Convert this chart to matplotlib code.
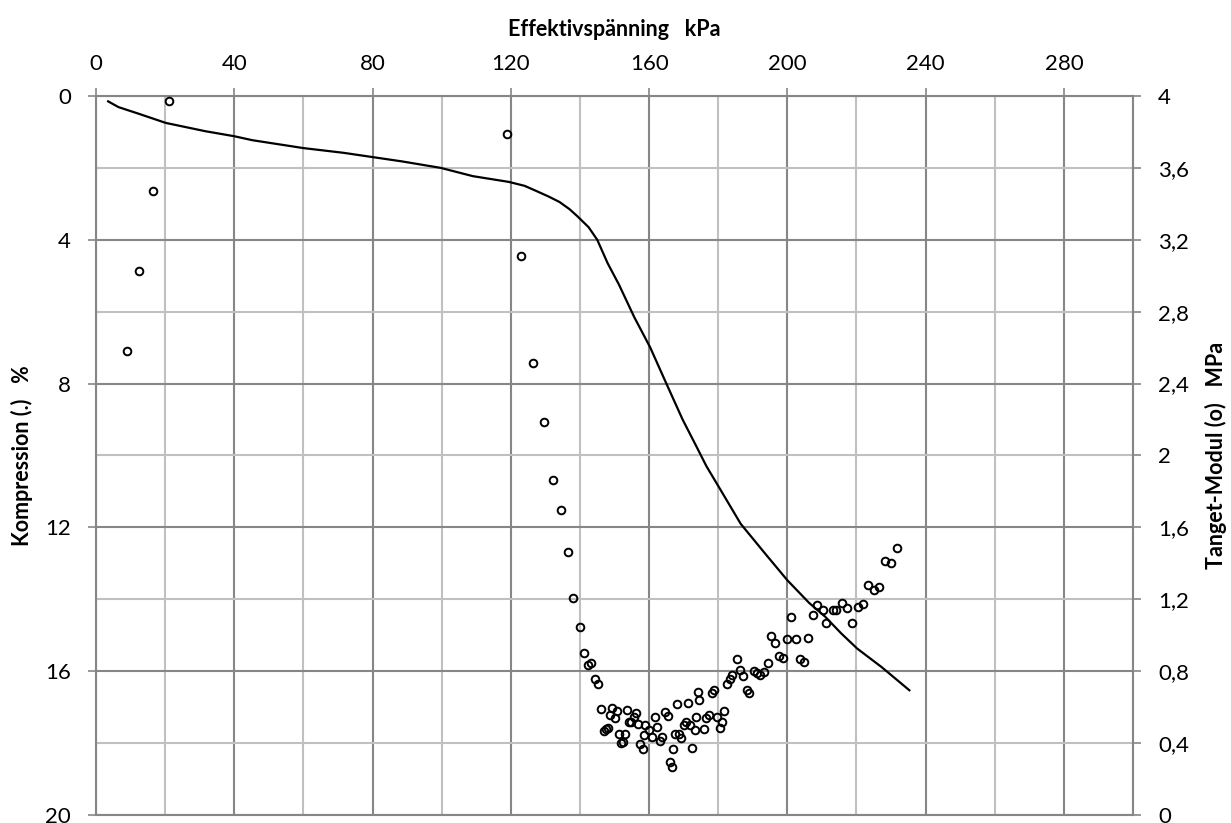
import matplotlib
matplotlib.use("Agg")
import matplotlib.pyplot as plt
from matplotlib.ticker import MultipleLocator, FuncFormatter

plt.rcParams['font.family'] = ['Lato', 'DejaVu Sans']

# Kompression-kurva (effektivspänning kPa, kompression %)
line_kpa = [3.5, 6.5, 12.2, 20.2, 31.6, 40, 45.2, 60, 71.5, 80, 88.5, 99.7, 109, 119.4,
            124.0, 127.3, 131.0, 134.1, 137.0, 139.3, 142.5, 145, 148.0, 151.3, 155.7,
            160.3, 165, 169.7, 173.7, 176.6, 180.7, 186.5, 193.5, 200, 206.3, 210.9,
            215.6, 220.2, 227.2, 235.3]
line_comp = [0.15, 0.31, 0.49, 0.75, 0.98, 1.12, 1.23, 1.45, 1.58, 1.70, 1.82, 2.0, 2.23, 2.39,
             2.50, 2.64, 2.80, 2.95, 3.15, 3.35, 3.65, 4.0, 4.65, 5.25, 6.15,
             6.99, 8.0, 9.0, 9.75, 10.3, 10.96, 11.9, 12.72, 13.47, 14.1, 14.48,
             14.95, 15.37, 15.88, 16.53]

# Tangentmodul (effektivspänning kPa, modul MPa)
mod_kpa = [9.1, 12.5, 16.5, 21.1, 119.0, 123.0, 126.5, 129.6, 132.2, 134.4, 136.4, 138.1,
           139.9, 141.1, 142.4, 143.2, 144.4, 145.2, 146.0, 146.9, 147.4, 148.0, 148.6,
           149.4, 150.0, 150.7, 151.3, 151.9, 152.4, 152.9, 153.5, 154.2, 154.8, 155.5,
           156.1, 156.8, 157.4, 158.1, 158.4, 158.9, 160.0, 160.7, 161.7, 162.4, 163.1,
           163.7, 164.7, 165.5, 166.1, 166.5, 166.9, 167.4, 168.0, 168.6, 169.3, 170.0,
           170.8, 171.2, 171.8, 172.5, 173.2, 173.7, 174.2, 174.4, 176.0, 176.6, 177.4,
           178.1, 178.8, 179.7, 180.5, 181.0, 181.7, 182.6, 183.4, 184.1, 185.5, 186.4,
           187.2, 188.2, 189.0, 190.3, 191.1, 192.1, 193.2, 194.4, 195.2, 196.4, 197.6,
           198.8, 200.0, 201.2, 202.4, 203.6, 204.8, 206.0, 207.3, 208.6, 210.2, 211.3,
           213.1, 214.2, 215.9, 217.4, 218.8, 220.3, 221.8, 223.4, 225.0, 226.5, 228.2,
           229.9, 231.6]
mod_mpa = [2.58, 3.025, 3.47, 3.97, 3.79, 3.11, 2.515, 2.185, 1.861, 1.698, 1.463, 1.207,
           1.044, 0.902, 0.837, 0.846, 0.756, 0.730, 0.587, 0.469, 0.478, 0.485, 0.559,
           0.593, 0.541, 0.580, 0.45, 0.40, 0.407, 0.45, 0.583, 0.519, 0.519, 0.546,
           0.565, 0.509, 0.394, 0.365, 0.443, 0.50, 0.472, 0.435, 0.543, 0.491, 0.411,
           0.435, 0.574, 0.55, 0.296, 0.265, 0.37, 0.448, 0.617, 0.45, 0.426, 0.50,
           0.519, 0.624, 0.50, 0.374, 0.472, 0.546, 0.685, 0.639, 0.478, 0.537, 0.556,
           0.676, 0.694, 0.546, 0.484, 0.52, 0.578, 0.731, 0.759, 0.778, 0.867, 0.806,
           0.772, 0.694, 0.68, 0.80, 0.791, 0.778, 0.796, 0.843, 0.994, 0.959, 0.883,
           0.874, 0.981, 1.102, 0.981, 0.87, 0.852, 0.987, 1.115, 1.167, 1.143, 1.069,
           1.143, 1.143, 1.181, 1.154, 1.069, 1.157, 1.176, 1.281, 1.25, 1.268, 1.411,
           1.404, 1.485]

grid_dark = '#868686'
grid_light = '#c0c0c0'

fig = plt.figure(figsize=(12.31, 8.23), dpi=100)
ax = fig.add_axes([0.078, 0.0097, 0.8424, 0.8737])

ax.plot(line_kpa, line_comp, color='black', lw=1.6, zorder=3)

ax.set_xlim(0, 300)
ax.set_ylim(20, 0)
ax.xaxis.tick_top()
ax.xaxis.set_label_position('top')
ax.xaxis.set_major_locator(MultipleLocator(40))
ax.xaxis.set_minor_locator(MultipleLocator(20))
ax.yaxis.set_major_locator(MultipleLocator(4))
ax.yaxis.set_minor_locator(MultipleLocator(2))
ax.set_xticks([0, 40, 80, 120, 160, 200, 240, 280])

ax.set_axisbelow(True)
ax.grid(which='major', color=grid_dark, lw=1.5)
ax.grid(which='minor', color=grid_light, lw=1.5)

ax.tick_params(axis='x', which='major', direction='out', length=6, width=1.2,
               color=grid_dark, labelsize=16, pad=10)
ax.tick_params(axis='y', which='major', direction='out', length=6, width=1.2,
               color=grid_dark, labelsize=16, pad=12)
ax.tick_params(which='minor', length=0)
for sp in ax.spines.values():
    sp.set_color(grid_dark)
    sp.set_linewidth(1.5)

ax.set_xlabel('Effektivspänning   kPa', fontsize=15.5, fontweight='bold')
ax.xaxis.set_label_coords(0.5, 1.083)
ax.set_ylabel('Kompression (.)   %', fontsize=15.5, fontweight='bold')
ax.yaxis.set_label_coords(-0.061, 0.5)

ax2 = ax.twinx()
ax2.plot(mod_kpa, mod_mpa, linestyle='none', marker='o', markersize=5.5,
         markerfacecolor='none', markeredgecolor='black', markeredgewidth=1.4)
ax2.set_ylim(0, 4)
ax2.yaxis.set_major_locator(MultipleLocator(0.4))
ax2.yaxis.set_major_formatter(FuncFormatter(lambda v, p: f"{v:.1f}".rstrip('0').rstrip('.').replace('.', ',')))
ax2.tick_params(axis='y', direction='out', length=6, width=1.2, color=grid_dark,
                labelsize=16, pad=12)
for sp in ax2.spines.values():
    sp.set_visible(False)
ax2.set_ylabel('Tanget-Modul (o)   MPa', fontsize=15.5, fontweight='bold')
ax2.yaxis.set_label_coords(1.069, 0.5)

fig.savefig('out.png', dpi=100)
